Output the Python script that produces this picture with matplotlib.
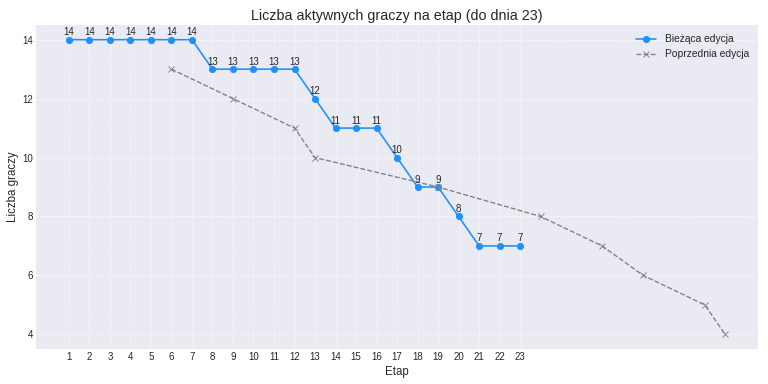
import matplotlib
matplotlib.use("Agg")
import matplotlib.pyplot as plt

plt.style.use("seaborn-v0_8-darkgrid")

stages_current = list(range(1, 24))
players_current = [14, 14, 14, 14, 14, 14, 14, 13, 13, 13, 13, 13, 12, 11, 11, 11, 10, 9, 9, 8, 7, 7, 7]

stages_prev = [6, 9, 12, 13, 19, 24, 27, 29, 32, 33]
players_prev = [13, 12, 11, 10, 9, 8, 7, 6, 5, 4]

title = "Liczba aktywnych graczy na etap (do dnia 23)"

fig, ax = plt.subplots(figsize=(12, 6), dpi=64)
ax.plot(stages_current, players_current, marker="o", color="dodgerblue",
        linewidth=1.8, markersize=7, label="Bieżąca edycja")
ax.plot(stages_prev, players_prev, marker="x", linestyle="--", color="gray",
        linewidth=1.5, markersize=7, label="Poprzednia edycja")

for x, y in zip(stages_current, players_current):
    ax.annotate(str(y), (x, y), textcoords="offset points", xytext=(0, 5),
                ha="center", fontsize=11)

ax.set_xticks(stages_current)
ax.tick_params(labelsize=11)
ax.set_title(title, fontsize=16)
ax.set_xlabel("Etap", fontsize=13)
ax.set_ylabel("Liczba graczy", fontsize=13)
ax.grid(True, linestyle="--", alpha=0.7)
ax.legend(loc="upper right", fontsize=11.5)
fig.subplots_adjust(left=0.047, right=0.987, top=0.935, bottom=0.091)
fig.savefig("out.png", dpi=64)
